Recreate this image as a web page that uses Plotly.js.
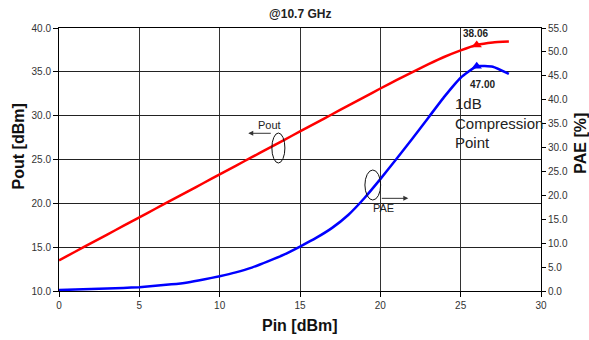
<!DOCTYPE html>
<html>
<head>
<meta charset="utf-8">
<script src="https://cdn.plot.ly/plotly-3.0.1.min.js"></script>
<style>html,body{margin:0;padding:0;background:#fff;}#chart{width:589px;height:340px;}</style>
</head>
<body>
<div id="chart"></div>
<script>
// Input power (dBm)
const pin = [0,1,2,3,4,5,6,7,8,9,10,11,12,13,14,15,16,17,18,19,20,21,22,23,24,25,26,27,28];
// Output power (dBm), left axis
const pout = [13.5,14.48,15.46,16.44,17.42,18.4,19.38,20.36,21.34,22.32,23.3,24.28,25.26,26.24,27.22,28.2,29.18,30.16,31.14,32.12,33.1,34.05,34.98,35.88,36.72,37.45,38.06,38.35,38.45];
// Power added efficiency (%), right axis
const pae = [0.2,0.3,0.4,0.5,0.65,0.8,1.1,1.4,1.8,2.4,3.1,3.9,4.9,6.2,7.6,9.3,11.1,13.2,15.9,19.4,23.4,27.6,31.9,36.3,40.7,44.6,47.0,46.9,45.4];
// 1 dB compression point markers
const p1dbPin = [26];
const p1dbPout = [38.06];
const p1dbPae = [47.0];
const xTicks = [0,5,10,15,20,25,30];

const font = 'Arial, "Liberation Sans", sans-serif';

const traces = [
  {x: pin, y: pout, type: 'scatter', mode: 'lines', line: {color: '#ff0000', width: 2.5, shape: 'spline', smoothing: 0.4}, yaxis: 'y', hoverinfo: 'none'},
  {x: pin, y: pae, type: 'scatter', mode: 'lines', line: {color: '#0000ff', width: 2.5, shape: 'spline', smoothing: 0.4}, yaxis: 'y2', hoverinfo: 'none'},
  {x: p1dbPin, y: p1dbPout, type: 'scatter', mode: 'markers', marker: {symbol: 'triangle-up', color: '#ff0000', size: 9}, yaxis: 'y'},
  {x: p1dbPin, y: p1dbPae, type: 'scatter', mode: 'markers', marker: {symbol: 'triangle-up', color: '#0000ff', size: 9}, yaxis: 'y2'}
];

const tickFont = {family: font, size: 10, color: '#333'};
const layout = {
  width: 589, height: 340,
  margin: {l: 59, r: 48, t: 28, b: 49, pad: 0},
  paper_bgcolor: '#fff', plot_bgcolor: '#fff',
  showlegend: false,
  font: {family: font},
  xaxis: {
    range: [0, 30], tickvals: xTicks, ticktext: xTicks.map(String),
    showgrid: true, gridcolor: '#333', gridwidth: 1,
    showline: true, linecolor: '#000', linewidth: 1, mirror: true,
    ticks: 'outside', ticklen: 5, tickcolor: '#000',
    tickfont: tickFont, zeroline: false, fixedrange: true
  },
  yaxis: {
    range: [10, 40], dtick: 5, tick0: 10, tickformat: '.1f',
    showgrid: true, gridcolor: '#222', gridwidth: 1,
    showline: true, linecolor: '#000', linewidth: 1,
    ticks: 'outside', ticklen: 5, tickcolor: '#000',
    tickfont: tickFont, zeroline: false, fixedrange: true
  },
  yaxis2: {
    range: [0, 55], dtick: 5, tick0: 0, tickformat: '.1f',
    overlaying: 'y', side: 'right', showgrid: false,
    showline: true, linecolor: '#000', linewidth: 1,
    ticks: 'outside', ticklen: 4, tickcolor: '#000',
    tickfont: tickFont, zeroline: false, fixedrange: true
  },
  annotations: [
    {text: '<b>@10.7 GHz</b>', xref: 'paper', yref: 'paper', x: 0.5, y: 1.055, xanchor: 'center', yanchor: 'middle', showarrow: false, font: {family: font, size: 12, color: '#222'}},
    {text: '<b>Pout [dBm]</b>', xref: 'paper', yref: 'paper', x: -0.085, y: 0.55, xanchor: 'center', yanchor: 'middle', textangle: -90, showarrow: false, font: {family: font, size: 16, color: '#111'}},
    {text: '<b>PAE [%]</b>', xref: 'paper', yref: 'paper', x: 1.083, y: 0.56, xanchor: 'center', yanchor: 'middle', textangle: -90, showarrow: false, font: {family: font, size: 16, color: '#111'}},
    {text: '<b>Pin [dBm]</b>', xref: 'paper', yref: 'paper', x: 0.5, y: -0.133, xanchor: 'center', yanchor: 'middle', showarrow: false, font: {family: font, size: 16, color: '#111'}},
    {text: '<b>38.06</b>', xref: 'x', yref: 'y', x: 25.95, y: 39.43, showarrow: false, font: {family: font, size: 10, color: '#222'}},
    {text: '<b>47.00</b>', xref: 'x', yref: 'y', x: 26.38, y: 33.6, showarrow: false, font: {family: font, size: 10, color: '#222'}},
    {text: '1dB<br>Compression<br>Point', xref: 'x', yref: 'y', x: 24.52, y: 32.6, xanchor: 'left', yanchor: 'top', align: 'left', showarrow: false, font: {family: font, size: 15, color: '#222'}},
    {text: 'Pout', xref: 'x', yref: 'y', x: 13.13, y: 28.94, showarrow: false, font: {family: font, size: 11, color: '#222'}},
    {text: 'PAE', xref: 'x', yref: 'y', x: 20.22, y: 19.47, showarrow: false, font: {family: font, size: 11, color: '#222'}},
    {text: '', xref: 'x', yref: 'y', x: 11.78, y: 27.99, ax: 24, ay: 0, showarrow: true, arrowhead: 2, arrowsize: 1, arrowwidth: 1, arrowcolor: '#333'},
    {text: '', xref: 'x', yref: 'y', x: 21.74, y: 20.57, ax: -28, ay: 0, showarrow: true, arrowhead: 2, arrowsize: 1, arrowwidth: 1, arrowcolor: '#333'}
  ],
  shapes: [
    {type: 'circle', xref: 'x', yref: 'y', x0: 13.25, x1: 14.06, y0: 24.6, y1: 28.02, line: {color: '#111', width: 1}},
    {type: 'circle', xref: 'x', yref: 'y', x0: 19.04, x1: 20.02, y0: 20.38, y1: 23.8, line: {color: '#111', width: 1}}
  ]
};

Plotly.newPlot('chart', traces, layout, {displayModeBar: false, staticPlot: true});
</script>
</body>
</html>
